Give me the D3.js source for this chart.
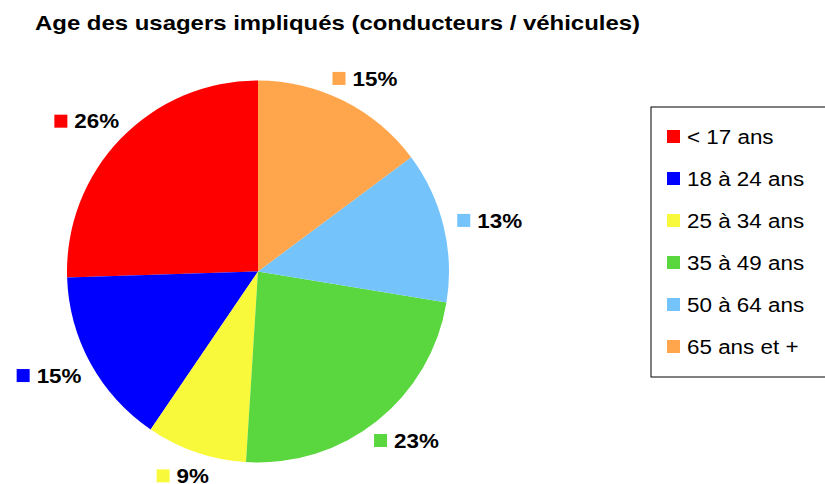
<!DOCTYPE html>
<html>
<head>
<meta charset="utf-8">
<script src="https://cdn.jsdelivr.net/npm/d3@7"></script>
<style>
  body { margin: 0; background: #fff; }
  text { font-family: "Liberation Sans", Arial, sans-serif; }
</style>
</head>
<body>
<svg id="chart" width="825" height="484"></svg>
<script>
// data, legend order
const categories = ["< 17 ans", "18 à 24 ans", "25 à 34 ans", "35 à 49 ans", "50 à 64 ans", "65 ans et +"];
const shares = [25.5, 15.0, 8.5, 23.4, 12.8, 14.8];
const shareLabels = ["26%", "15%", "9%", "23%", "13%", "15%"];
const colors = ["#ff0000", "#0000ff", "#f9f93c", "#5ad63e", "#74c3fb", "#ffa54c"];

const svg = d3.select("#chart");
const cx = 258, cy = 271.5, radius = 191;

// the original text is a bit wider than Liberation Sans, stretch it
function stretch(sel, k) {
    sel.each(function () {
        const len = this.getComputedTextLength();
        d3.select(this).attr("textLength", len * k).attr("lengthAdjust", "spacingAndGlyphs");
    });
}

svg.append("text")
    .attr("x", 35).attr("y", 30)
    .attr("font-size", 21).attr("font-weight", "bold")
    .text("Age des usagers impliqués (conducteurs / véhicules)")
    .attr("textLength", 605).attr("lengthAdjust", "spacingAndGlyphs");

// slices go counter-clockwise from 12 o'clock
const pie = d3.pie().sort(null).value(d => d).startAngle(0).endAngle(-2 * Math.PI);
const arcs = pie(shares);
const arc = d3.arc().innerRadius(0).outerRadius(radius);

const g = svg.append("g").attr("transform", "translate(" + cx + "," + cy + ")");

g.selectAll("path.slice")
    .data(arcs)
    .enter().append("path")
    .attr("class", "slice")
    .attr("d", arc)
    .attr("fill", (d, i) => colors[i]);

// data labels: square + bold percentage, box placed just outside the pie
const sq = 13, gap = 7;
const lab = g.selectAll("g.lab")
    .data(arcs)
    .enter().append("g")
    .attr("class", "lab");

lab.append("rect")
    .attr("width", sq).attr("height", sq)
    .attr("fill", (d, i) => colors[i]);

lab.append("text")
    .attr("x", sq + gap).attr("y", sq / 2)
    .attr("dy", "0.36em")
    .attr("font-size", 20).attr("font-weight", "bold")
    .text((d, i) => shareLabels[i])
    .call(stretch, 1.12);

lab.each(function (d) {
    const t = d3.select(this).select("text");
    const w = sq + gap + (+t.attr("textLength"));
    const h = 20;
    const a = (d.startAngle + d.endAngle) / 2;
    const s = Math.sin(a), c = -Math.cos(a);
    const r = radius + 15;
    const mx = r * s + (w / 2) * s;
    const my = r * c + (h / 2) * c;
    d3.select(this).attr("transform", "translate(" + (mx - w / 2) + "," + (my - sq / 2) + ")");
});

// legend
const legend = svg.append("g").attr("transform", "translate(651,107)");
legend.append("rect")
    .attr("width", 200).attr("height", 270)
    .attr("fill", "#fff").attr("stroke", "#000").attr("stroke-width", 1);

const item = legend.selectAll("g.item")
    .data(categories)
    .enter().append("g")
    .attr("class", "item")
    .attr("transform", (d, i) => "translate(16," + (23 + i * 42) + ")");

item.append("rect")
    .attr("width", sq).attr("height", sq)
    .attr("fill", (d, i) => colors[i]);

item.append("text")
    .attr("x", 20).attr("y", sq / 2)
    .attr("dy", "0.36em")
    .attr("font-size", 20)
    .text(d => d)
    .call(stretch, 1.12);
</script>
</body>
</html>
